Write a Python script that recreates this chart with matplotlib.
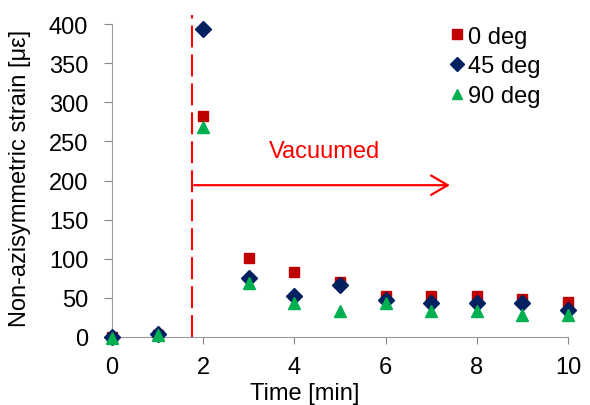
import matplotlib
matplotlib.use("Agg")
import matplotlib.pyplot as plt

# ==================== Data ====================
time_min = [0, 1, 2, 3, 4, 5, 6, 7, 8, 9, 10]
deg0 = [0, 3, 282, 101, 83, 70, 53, 53, 53, 49, 45]
deg45 = [0, 4, 394, 76, 53, 66, 47, 44, 44, 44, 35]
deg90 = [-1, 2, 268, 69, 43, 33, 43, 33, 33, 28, 28]

vacuum_start = 1.76
arrow_end = 7.41
arrow_y = 194

plt.rcParams["font.family"] = ["Liberation Sans", "DejaVu Sans"]
FS = 17

fig = plt.figure(figsize=(5.9, 4.06), dpi=100)
ax = fig.add_axes([0.1898, 0.1675, 0.7729, 0.7709])

ax.plot(time_min, deg0, "s", color="#c00000", markersize=7.5, label="0 deg", clip_on=False, zorder=3)
ax.plot(time_min, deg45, "D", color="#002060", markersize=8, label="45 deg", clip_on=False, zorder=4)
ax.plot(time_min, deg90, "^", color="#00b050", markersize=8, label="90 deg", clip_on=False, zorder=5)

# vacuum marker line and arrow
ax.plot([vacuum_start, vacuum_start], [0, 412], color="#ff0000", linestyle=(0, (10.5, 3.4)),
        linewidth=1.5, clip_on=False, zorder=2)
ax.annotate("", xy=(arrow_end, arrow_y), xytext=(1.8, arrow_y),
            arrowprops=dict(arrowstyle="->,head_length=1.2,head_width=0.7",
                            color="#ff0000", lw=1.6, shrinkA=0, shrinkB=0))
ax.text(4.67, 238, "Vacuumed", color="#ff0000", fontsize=FS, ha="center", va="center")

ax.set_xlim(0, 10)
ax.set_ylim(0, 400)
ax.set_xticks(range(0, 11, 2))
ax.set_yticks(range(0, 401, 50))
ax.tick_params(axis="x", labelsize=FS, color="#888888", direction="out", length=5, pad=9)
ax.tick_params(axis="y", labelsize=FS, color="#888888", direction="out", length=6, pad=11)
for s in ["top", "right"]:
    ax.spines[s].set_visible(False)
for s in ["left", "bottom"]:
    ax.spines[s].set_color("#999999")

ax.set_xlabel("Time [min]", fontsize=FS)
ax.xaxis.set_label_coords(0.423, -0.145)
ax.set_ylabel("Non-azisymmetric strain [\u03bc\u03b5]", fontsize=FS)
ax.yaxis.set_label_coords(-0.178, 0.51)

ax.legend(loc="upper left", bbox_to_anchor=(0.735, 0.995), frameon=False, fontsize=FS,
          handletextpad=0.1, labelspacing=0.33, handlelength=0.8, borderaxespad=0,
          borderpad=0, markerscale=0.9)

fig.savefig("out.png", dpi=100)
